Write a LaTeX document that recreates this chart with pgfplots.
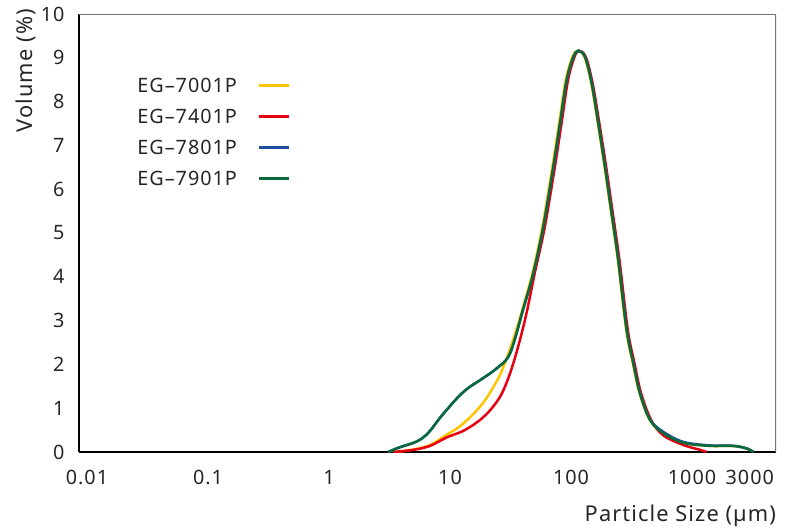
\documentclass[border=0pt]{standalone}
\usepackage{fontspec}
\setmainfont{Noto Sans}[LetterSpace=5]
\usepackage{pgfplots}
\pgfplotsset{compat=1.18}
\definecolor{cyel}{HTML}{FFC400}
\definecolor{cred}{HTML}{E60012}
\definecolor{cblu}{HTML}{1D4FA0}
\definecolor{cgrn}{HTML}{0A6A3A}
\begin{document}
\begin{tikzpicture}
\begin{axis}[
  scale only axis, width=348.5pt, height=219pt,
  xmode=log, xmin=0.00859, xmax=4940, ymin=0, ymax=10,
  axis lines*=left,
  axis line style={line width=1.25pt, black},
  xtick={0.01,0.1,1,10,100,1000,3000},
  xticklabels={0.01,0.1,1,10,100,1000,3000},
  ytick={0,1,...,10},
  minor tick num=0, xminorticks=false,
  major tick length=0pt,
  /pgf/number format/assume math mode=true,
  ticklabel style={font=\fontsize{9.9}{11}\selectfont, text=black!85},
  xticklabel style={yshift=-5.7pt},
  yticklabel style={xshift=-3.7pt},
  xlabel={Particle Size (µm)},
  ylabel={Volume (\%)},
  label style={font=\fontsize{10.9}{13}\selectfont, text=black!85},
  xlabel style={at={(axis description cs:1.010,-0.159)}, anchor=base east},
  ylabel style={at={(axis description cs:-0.0674,1.027)}, anchor=base east, rotate=0},
  legend plot pos=right,
  legend style={draw=none, fill=none, at={(axis description cs:0.0832,0.854)}, anchor=north west,
    inner sep=0pt, row sep=8.5pt,
    nodes={inner sep=0pt, text height=7pt, text depth=0pt, font=\fontsize{9.9}{11}\selectfont, text=black!85}},
  legend image code/.code={\path (0pt,0pt); \draw[#1] (10.5pt,0pt) -- (25.5pt,0pt);},
  every axis plot/.append style={line width=1.25pt, smooth, tension=0.55},
]
\addplot[cyel] coordinates {
(3.51,0) (5.01,0.06) (6.84,0.16) (9.33,0.39) (12.0,0.58) (15.5,0.86) (19.1,1.15) (22.9,1.49) (26.3,1.8) (29.5,2.15) (33.1,2.55) (36.3,2.9) (39.6,3.25)
(47.9,4.08) (57.9,5.14) (70.1,6.51) (79.6,7.5) (90.4,8.49) (102.6,9.02) (113.5,9.16) (129.1,9.02) (146.6,8.42)
(166.3,7.5) (188.8,6.51) (214.3,5.45) (243.2,4.38) (285.1,2.79) (323.6,2.03) (368.1,1.34) (446.7,0.73) (579.4,0.42)
(847.2,0.21) (1409,0.14) (2193,0.14) (2831,0.08) (3214,0)};
\addlegendentry{EG–7001P}
\addplot[cred] coordinates {
(3.39,0) (5.01,0.05) (6.84,0.14) (9.33,0.33) (12.6,0.47) (15.6,0.62) (17.7,0.73) (21.4,0.95) (25.9,1.26) (29.5,1.6) (33.3,2.02) (38.0,2.58) (43.1,3.2)
(50.1,4.08) (60.7,5.14) (73.5,6.51) (83.4,7.5) (94.4,8.49) (106.7,9.02) (116.4,9.16) (132.4,9.02) (150.7,8.42)
(171.4,7.5) (195.0,6.51) (221.3,5.45) (251.2,4.38) (294.4,2.79) (334.2,2.03) (379.3,1.34) (459.2,0.73) (579.4,0.38)
(847.2,0.16) (1164,0.05) (1318,0)};
\addlegendentry{EG–7401P}
\addplot[cblu] coordinates {
(3.08,0) (3.86,0.11) (5.31,0.24) (6.58,0.43) (8.26,0.78) (10.0,1.05) (12.1,1.3) (14.6,1.49) (17.7,1.64) (24.3,1.91) (31.3,2.25)
(40.4,3.28) (48.8,4.08) (59.0,5.14) (71.4,6.51) (81.1,7.5) (92.0,8.49) (104.5,9.02) (114.8,9.16) (130.6,9.02)
(148.3,8.42) (168.3,7.5) (191.0,6.51) (216.8,5.45) (246.0,4.38) (288.4,2.79) (327.3,2.03) (371.5,1.34) (449.8,0.74)
(579.4,0.46) (847.2,0.23) (1409,0.15) (2193,0.14) (2831,0.08) (3214,0)};
\addlegendentry{EG–7801P}
\addplot[cgrn] coordinates {
(3.08,0) (3.86,0.11) (5.31,0.24) (6.58,0.43) (8.26,0.78) (10.0,1.05) (12.1,1.3) (14.6,1.49) (17.7,1.64) (24.3,1.91) (31.3,2.25)
(40.4,3.28) (48.8,4.08) (59.0,5.14) (71.4,6.51) (81.1,7.5) (92.0,8.49) (104.5,9.02) (114.8,9.16) (130.6,9.02)
(148.3,8.42) (168.3,7.5) (191.0,6.51) (216.8,5.45) (246.0,4.38) (288.4,2.79) (327.3,2.03) (371.5,1.34) (449.8,0.73)
(579.4,0.43) (847.2,0.21) (1409,0.14) (2193,0.14) (2831,0.08) (3214,0)};
\addlegendentry{EG–7901P}
\draw[line width=0.6pt, black!55] (rel axis cs:0,1) -- (rel axis cs:1,1) -- (rel axis cs:1,0);
\end{axis}
\pgfresetboundingbox
\path (current axis.south west) ++(-39.5pt,-39.5pt) coordinate (bbl);
\path (current axis.north east) ++(13pt,7pt) coordinate (btr);
\useasboundingbox (bbl) rectangle (btr);
\end{tikzpicture}
\end{document}
